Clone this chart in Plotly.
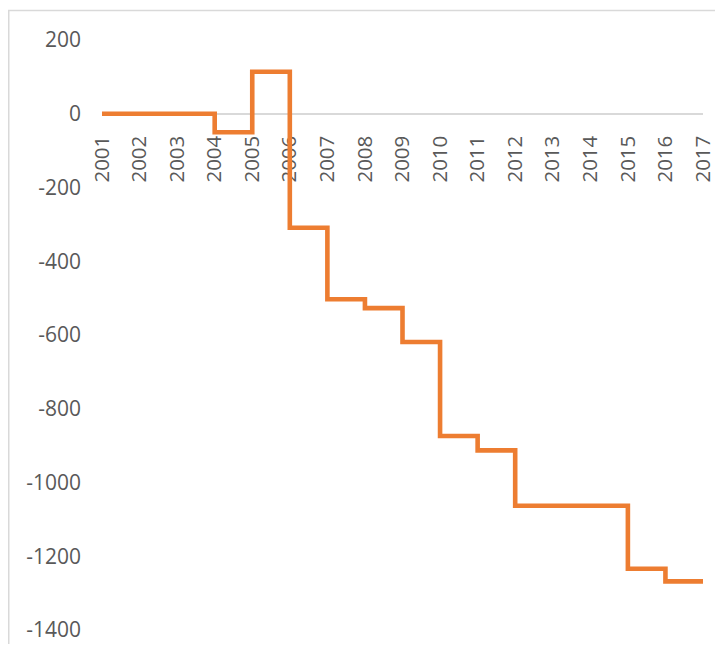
import plotly.graph_objects as go

years = ["2001", "2002", "2003", "2004", "2005", "2006", "2007", "2008", "2009",
         "2010", "2011", "2012", "2013", "2014", "2015", "2016", "2017"]
values = [0, 0, 0, -50, 114, -309, -503, -527, -619, -874, -913, -1063, -1063,
          -1063, -1234, -1268, -1268]
y_ticks = [200, 0, -200, -400, -600, -800, -1000, -1200, -1400]
y_tick_labels = ["200", "0", "-200", "-400", "-600", "-800", "-1000", "-1200", "-1400"]

# page offset of 8px (body margin) is accounted for in the size and margins
W, H = 707, 636
L, R, T, B = 94, 12, 32, 14
pw, ph = W - L - R, H - T - B

fig = go.Figure()
fig.add_trace(go.Scatter(
    x=years, y=values, mode="lines", line_shape="hv",
    line=dict(color="#ED7D31", width=4.6),
    showlegend=False, hoverinfo="skip",
))

ymin, ymax = -1400, 200
zero_pos = (0 - ymin) / (ymax - ymin)

fig.update_layout(
    width=W, height=H, autosize=False,
    margin=dict(l=L, r=R, t=T, b=B, pad=0, autoexpand=False),
    paper_bgcolor="white", plot_bgcolor="white",
    font=dict(family="Open Sans", color="#595959"),
    xaxis=dict(
        type="category", range=[0, len(years) - 1],
        anchor="free", position=zero_pos, automargin=False,
        showline=True, linecolor="#D9D9D9", linewidth=1.5,
        layer="below traces",
        showgrid=False, zeroline=False, ticks="",
        tickangle=-90, tickfont=dict(size=20.5, color="#595959"),
        ticklabelstandoff=13,
    ),
    yaxis=dict(
        range=[ymin, ymax], tickvals=y_ticks, ticktext=y_tick_labels,
        automargin=False, layer="below traces",
        showline=False, showgrid=False, zeroline=False, ticks="",
        tickfont=dict(size=21, color="#595959"),
        ticklabelstandoff=20,
    ),
    shapes=[dict(
        type="rect", xref="paper", yref="paper",
        x0=(0.75 - L) / pw, x1=1.5,
        y0=-1.0, y1=1 + (T - 2.5) / ph,
        line=dict(color="#D9D9D9", width=1.5), fillcolor="rgba(0,0,0,0)",
        layer="below",
    )],
)

fig.write_html("out.html")
